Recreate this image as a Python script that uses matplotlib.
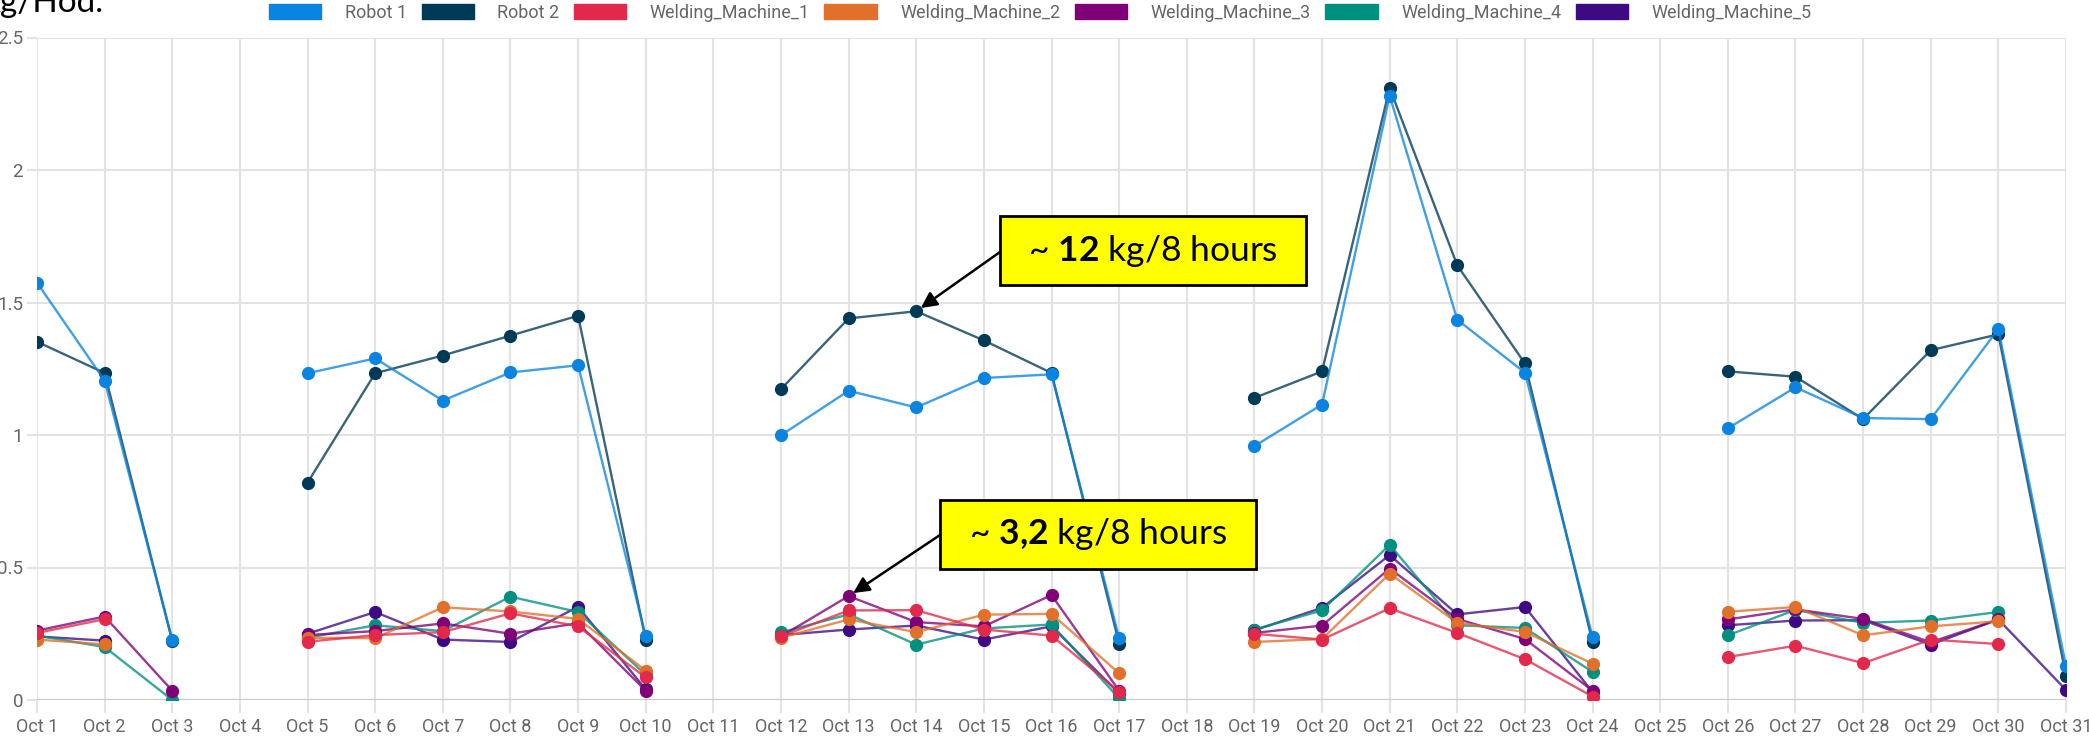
import numpy as np
import matplotlib
matplotlib.use("Agg")
import matplotlib.pyplot as plt
from matplotlib.patches import Patch, Rectangle

# Polices : étiquettes du graphique (étroites) et encadrés (style Calibri)
plt.rcParams['font.family'] = ['Liberation Sans Narrow', 'Roboto', 'DejaVu Sans']
plt.rcParams['mathtext.fontset'] = 'custom'
plt.rcParams['mathtext.rm'] = 'Lato'
plt.rcParams['mathtext.bf'] = 'Lato:bold'

nan = np.nan

# Données (kg/h), une valeur par jour d'octobre, nan = pas de production
jours = ["Oct %d" % i for i in range(1, 32)]

robot_1 = [1.575, 1.205, 0.227, nan, 1.233, 1.289, 1.130, 1.236, 1.263, 0.240, nan,
           0.999, 1.167, 1.104, 1.215, 1.229, 0.234, nan, 0.958, 1.115, 2.280, 1.435,
           1.235, 0.238, nan, 1.025, 1.180, 1.064, 1.060, 1.400, 0.127]
robot_2 = [1.352, 1.234, 0.222, nan, 0.820, 1.233, 1.300, 1.375, 1.450, 0.228, nan,
           1.173, 1.440, 1.467, 1.357, 1.234, 0.213, nan, 1.140, 1.240, 2.310, 1.640,
           1.270, 0.218, nan, 1.240, 1.220, 1.060, 1.320, 1.380, 0.091]
welding_1 = [0.253, 0.305, nan, nan, 0.220, 0.245, 0.256, 0.327, 0.278, 0.085, nan,
             0.240, 0.338, 0.339, 0.266, 0.243, 0.032, nan, 0.250, 0.228, 0.346, 0.253,
             0.154, 0.013, nan, 0.162, 0.205, 0.139, 0.228, 0.211, nan]
welding_2 = [0.228, 0.210, nan, nan, 0.235, 0.233, 0.350, 0.334, 0.306, 0.111, nan,
             0.235, 0.304, 0.256, 0.322, 0.325, 0.101, nan, 0.219, 0.230, 0.477, 0.291,
             0.257, 0.137, nan, 0.333, 0.351, 0.244, 0.278, 0.297, nan]
welding_3 = [0.262, 0.315, 0.035, nan, 0.245, 0.260, 0.289, 0.250, 0.290, 0.035, nan,
             0.240, 0.392, 0.294, 0.278, 0.396, 0.035, nan, 0.253, 0.281, 0.496, 0.306,
             0.230, 0.035, nan, 0.304, 0.342, 0.306, 0.218, 0.304, nan]
welding_4 = [0.243, 0.200, 0.000, nan, 0.235, 0.282, 0.260, 0.390, 0.332, 0.095, nan,
             0.255, 0.323, 0.209, 0.270, 0.285, 0.006, nan, 0.266, 0.338, 0.586, 0.282,
             0.272, 0.106, nan, 0.244, 0.340, 0.291, 0.300, 0.332, nan]
welding_5 = [0.240, 0.224, nan, nan, 0.250, 0.332, 0.228, 0.219, 0.352, 0.040, nan,
             0.245, 0.266, 0.281, 0.228, 0.278, 0.025, nan, 0.263, 0.348, 0.547, 0.323,
             0.351, 0.030, nan, 0.282, 0.300, 0.301, 0.209, 0.304, 0.038]

series = ["Robot 1", "Robot 2", "Welding_Machine_1", "Welding_Machine_2",
          "Welding_Machine_3", "Welding_Machine_4", "Welding_Machine_5"]
valeurs = [robot_1, robot_2, welding_1, welding_2, welding_3, welding_4, welding_5]
couleurs = ["#0a84e0", "#003a57", "#e3294b", "#e0702a", "#800078", "#00907f", "#3d0a84"]

W, H = 2089, 739
GRILLE = "#e3e3e3"
TEXTE = "#666666"

fig = plt.figure(figsize=(W / 100, H / 100), dpi=100)
ax = fig.add_axes([37 / W, 1 - 700 / H, (2066 - 37) / W, (700 - 37.5) / H])

x = np.arange(len(jours))
# Chart.js dessine la première série au-dessus
for i, (nom, vals, c) in enumerate(zip(series, valeurs, couleurs)):
    rgb = matplotlib.colors.to_rgb(c)
    ax.plot(x, vals, color=(*rgb, 0.78), lw=1.7, marker='o', markersize=8.5,
            markerfacecolor=c, markeredgecolor=c, zorder=20 - i)

ax.set_xlim(0, len(jours) - 1)
ax.set_ylim(0, 2.5)
ax.set_xticks(x)
ax.set_xticklabels(jours)
ax.set_yticks([0, 0.5, 1, 1.5, 2, 2.5])
ax.set_yticklabels(["0", "0.5", "1", "1.5", "2", "2.5"])
ax.grid(True, color=GRILLE, lw=1.5)
ax.set_axisbelow(True)
for s in ax.spines.values():
    s.set_visible(False)
ax.axhline(0, color="#cccccc", lw=1.6, zorder=1)
ax.tick_params(axis='x', length=9, width=1.5, color=GRILLE, pad=4,
               labelsize=13, labelcolor=TEXTE)
ax.tick_params(axis='y', length=7, width=1.5, color=GRILLE, pad=3,
               labelsize=13.5, labelcolor=TEXTE)

# Légende en haut
poignees = [Patch(facecolor=c, edgecolor=c) for c in couleurs]
fig.legend(poignees, series, loc='center', bbox_to_anchor=(0.498, 1 - 13 / H), ncol=7,
           frameon=False, fontsize=13, labelcolor=TEXTE, handlelength=2.9,
           handleheight=0.9, handletextpad=1.3, columnspacing=0.8)

# Titre coupé en haut à gauche
fig.text(-16 / W, 1 - 12 / H, "kg/Hod.", fontsize=24, family='Lato', color='black',
         ha='left', va='baseline')


def encadre(x0, y0, x1, y1, texte, queue, cible):
    """Encadré jaune avec flèche vers un point (coordonnées en pixels de la figure)"""
    fig.add_artist(Rectangle((x0 / W, 1 - y1 / H), (x1 - x0) / W, (y1 - y0) / H,
                             transform=fig.transFigure, facecolor="#ffff00",
                             edgecolor="black", lw=2, zorder=30))
    fig.text((x0 + x1) / 2 / W, 1 - (y0 + y1) / 2 / H, texte, fontsize=25.5,
             family='Lato', ha='center', va='center', zorder=31)
    ax.annotate('', xy=cible, xycoords='data',
                xytext=(queue[0] / W, 1 - queue[1] / H), textcoords='figure fraction',
                arrowprops=dict(arrowstyle='-|>', color='black', lw=1.8,
                                mutation_scale=24, shrinkA=0, shrinkB=4),
                zorder=32, annotation_clip=False)


encadre(1000, 216, 1306, 285, r"~ $\mathbf{12}$ kg/8 hours", (1000, 252), (13, robot_2[13]))
encadre(940, 500, 1256, 569, r"~ $\mathbf{3{,}2}$ kg/8 hours", (940, 535), (12, welding_3[12]))

fig.savefig("out.png", dpi=100)
plt.close('all')
